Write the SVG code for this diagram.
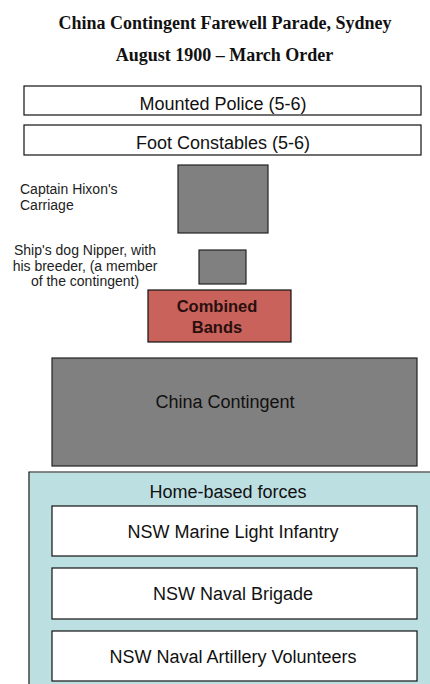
<svg xmlns="http://www.w3.org/2000/svg" width="430" height="684" viewBox="0 0 430 684">
<style>
.title{font-family:"Liberation Serif",serif;font-weight:bold;font-size:18px;fill:#111;text-anchor:middle}
.box{fill:#fff;stroke:#111;stroke-width:1.2}
.grey{fill:#808080;stroke:#222;stroke-width:1.2}
.lbl{font-family:"Liberation Sans",Arial,sans-serif;font-size:18px;fill:#111;text-anchor:middle}
.note{font-family:"Liberation Sans",Arial,sans-serif;font-size:14px;fill:#222}
</style>
<rect width="430" height="684" fill="#fff"/>
<text class="title" x="225" y="29">China Contingent Farewell Parade, Sydney</text>
<text class="title" x="224.5" y="61">August 1900 – March Order</text>
<g id="mounted-police">
<rect class="box" x="24" y="86" width="397" height="29"/>
<text class="lbl" x="223" y="110">Mounted Police (5-6)</text>
</g>
<g id="foot-constables">
<rect class="box" x="24" y="125" width="397" height="30"/>
<text class="lbl" x="223" y="149">Foot Constables (5-6)</text>
</g>
<g id="carriage">
<rect class="grey" x="178" y="165" width="90" height="68"/>
<text class="note" x="20" y="194">Captain Hixon's</text>
<text class="note" x="20" y="210">Carriage</text>
</g>
<g id="nipper">
<rect class="grey" x="199" y="250" width="47" height="34"/>
<text class="note" x="85" y="255" text-anchor="middle">Ship's dog Nipper, with</text>
<text class="note" x="85" y="271" text-anchor="middle">his breeder, (a member</text>
<text class="note" x="85" y="286" text-anchor="middle">of the contingent)</text>
</g>
<g id="combined-bands">
<rect x="148" y="290" width="143" height="52" fill="#C8625A" stroke="#111" stroke-width="1.2"/>
<text class="lbl" x="217" y="312" font-weight="bold" style="fill:#2a0f0f;font-size:16.5px">Combined</text>
<text class="lbl" x="217" y="333" font-weight="bold" style="fill:#2a0f0f;font-size:16.5px">Bands</text>
</g>
<g id="china-contingent">
<rect class="grey" x="52" y="358" width="365" height="108"/>
<text class="lbl" x="225" y="408">China Contingent</text>
</g>
<g id="home-based">
<rect x="29.6" y="472.6" width="401" height="212" fill="#BCDFE2"/>
<path d="M431 472 H29 V685" fill="none" stroke="#111" stroke-width="1.2"/>
<text class="lbl" x="228" y="498">Home-based forces</text>
</g>
<g id="marine-light-infantry">
<rect class="box" x="52" y="506" width="365" height="50"/>
<text class="lbl" x="233" y="538">NSW Marine Light Infantry</text>
</g>
<g id="naval-brigade">
<rect class="box" x="52" y="568" width="365" height="51"/>
<text class="lbl" x="233" y="600">NSW Naval Brigade</text>
</g>
<g id="naval-artillery">
<rect class="box" x="52" y="631" width="365" height="50"/>
<text class="lbl" x="233" y="663">NSW Naval Artillery Volunteers</text>
</g>
<g id="connectors"></g>
</svg>
